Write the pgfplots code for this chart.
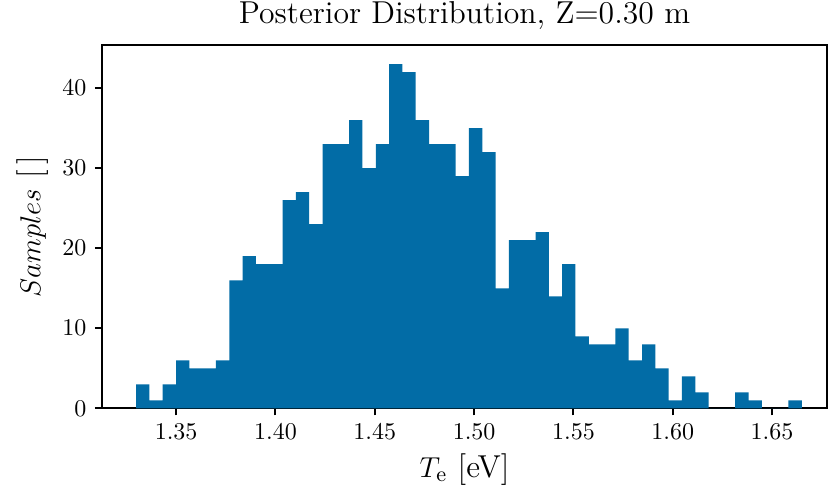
\documentclass[border=0pt]{standalone}
\usepackage{pgfplots}
\pgfplotsset{compat=1.18}
\usetikzlibrary{calc}
\definecolor{barblue}{RGB}{2,108,166}
\begin{document}
\begin{tikzpicture}
\begin{axis}[
  name=ax,
  scale only axis,
  width=302pt, height=151.3pt,
  xmin=1.3127, xmax=1.6777,
  ymin=0, ymax=45.4,
  axis line style={line width=0.8pt},
  tick style={line width=0.8pt, black},
  tick align=outside,
  major tick length=3pt,
  xtick={1.35,1.40,1.45,1.50,1.55,1.60,1.65},
  ytick={0,10,20,30,40},
  xticklabel style={/pgf/number format/.cd, fixed, fixed zerofill, precision=2},
  xtick pos=bottom, ytick pos=left,
  tick label style={font=\fontsize{10.3}{12}\selectfont},
  title={Posterior Distribution, Z=0.30 m},
  title style={font=\fontsize{13.2}{15}\selectfont, yshift=-3pt},
  xlabel={$T_\mathrm{e}$ [eV]},
  ylabel={$Samples$ [\,]},
  label style={font=\fontsize{13.2}{15}\selectfont},
  xlabel style={yshift=1pt},
  ylabel style={yshift=-1pt},
]
\addplot[const plot mark left, fill=barblue, draw=none] coordinates {
(1.32986,3) (1.33656,1) (1.34326,3) (1.34997,6) (1.35667,5)
(1.36337,5) (1.37007,6) (1.37677,16) (1.38347,19) (1.39018,18)
(1.39688,18) (1.40358,26) (1.41028,27) (1.41698,23) (1.42369,33)
(1.43039,33) (1.43709,36) (1.44379,30) (1.45049,33) (1.45719,43)
(1.46390,42) (1.47060,36) (1.47730,33) (1.48400,33) (1.49070,29)
(1.49741,35) (1.50411,32) (1.51081,15) (1.51751,21) (1.52421,21)
(1.53091,22) (1.53762,14) (1.54432,18) (1.55102,9) (1.55772,8)
(1.56442,8) (1.57113,10) (1.57783,6) (1.58453,8) (1.59123,5)
(1.59793,1) (1.60463,4) (1.61134,2) (1.61804,0) (1.62474,0)
(1.63144,2) (1.63814,1) (1.64485,0) (1.65155,0) (1.65825,1)
(1.66495,1)
} \closedcycle;
\end{axis}
\pgfresetboundingbox
\path ($(ax.south west)+(-42.5pt,-37.1pt)$) rectangle ($(ax.north east)+(0.8pt,18.75pt)$);
\end{tikzpicture}
\end{document}
